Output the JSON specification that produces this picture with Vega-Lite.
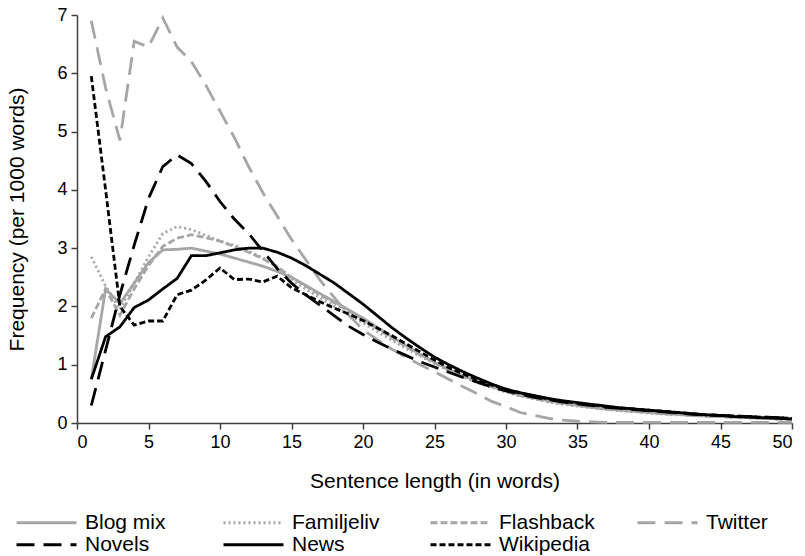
{
  "$schema": "https://vega.github.io/schema/vega-lite/v6.json",
  "width": 715,
  "height": 408,
  "autosize": {"type": "none"},
  "padding": {"left": 77, "top": 15, "right": 13, "bottom": 133},
  "background": "white",
  "config": {
    "view": {"stroke": null},
    "font": "Liberation Sans",
    "axis": {"grid": false, "domain": true, "domainColor": "#404040", "tickColor": "#404040", "domainWidth": 1.5, "tickWidth": 1.5, "labelColor": "#000", "titleColor": "#000", "labelFont": "Liberation Sans", "titleFont": "Liberation Sans", "titleFontWeight": "normal"},
    "legend": {"symbolType": "stroke", "symbolSize": 3600, "symbolStrokeWidth": 3, "labelFontSize": 21, "labelColor": "#000", "labelFont": "Liberation Sans", "labelOffset": 7, "columnPadding": 36, "labelLimit": 200}
  },
  "data": {
    "values": [
      {"x":1,"Blog mix":0.75,"Familjeliv":2.85,"Flashback":1.8,"Twitter":6.9,"Novels":0.3,"News":0.75,"Wikipedia":5.95},
      {"x":2,"Blog mix":2.3,"Familjeliv":2.35,"Flashback":2.3,"Twitter":5.75,"Novels":1.25,"News":1.48,"Wikipedia":4.0},
      {"x":3,"Blog mix":2.05,"Familjeliv":1.95,"Flashback":1.85,"Twitter":4.85,"Novels":2.2,"News":1.65,"Wikipedia":2.0},
      {"x":4,"Blog mix":2.4,"Familjeliv":2.4,"Flashback":2.3,"Twitter":6.55,"Novels":3.05,"News":1.98,"Wikipedia":1.68},
      {"x":5,"Blog mix":2.75,"Familjeliv":2.85,"Flashback":2.7,"Twitter":6.45,"Novels":3.85,"News":2.11,"Wikipedia":1.75},
      {"x":6,"Blog mix":2.97,"Familjeliv":3.25,"Flashback":3.03,"Twitter":6.95,"Novels":4.4,"News":2.3,"Wikipedia":1.75},
      {"x":7,"Blog mix":2.98,"Familjeliv":3.37,"Flashback":3.17,"Twitter":6.45,"Novels":4.6,"News":2.48,"Wikipedia":2.2},
      {"x":8,"Blog mix":3.0,"Familjeliv":3.32,"Flashback":3.23,"Twitter":6.2,"Novels":4.45,"News":2.87,"Wikipedia":2.28},
      {"x":9,"Blog mix":2.95,"Familjeliv":3.22,"Flashback":3.18,"Twitter":5.8,"Novels":4.15,"News":2.87,"Wikipedia":2.45},
      {"x":10,"Blog mix":2.9,"Familjeliv":3.12,"Flashback":3.12,"Twitter":5.35,"Novels":3.8,"News":2.92,"Wikipedia":2.66},
      {"x":11,"Blog mix":2.83,"Familjeliv":3.05,"Flashback":3.03,"Twitter":4.9,"Novels":3.5,"News":2.97,"Wikipedia":2.46},
      {"x":12,"Blog mix":2.76,"Familjeliv":2.95,"Flashback":2.93,"Twitter":4.4,"Novels":3.25,"News":3.0,"Wikipedia":2.47},
      {"x":13,"Blog mix":2.69,"Familjeliv":2.83,"Flashback":2.82,"Twitter":3.95,"Novels":2.95,"News":3.0,"Wikipedia":2.42},
      {"x":14,"Blog mix":2.6,"Familjeliv":2.68,"Flashback":2.68,"Twitter":3.55,"Novels":2.65,"News":2.93,"Wikipedia":2.52},
      {"x":15,"Blog mix":2.5,"Familjeliv":2.45,"Flashback":2.5,"Twitter":3.15,"Novels":2.4,"News":2.83,"Wikipedia":2.32},
      {"x":16,"Blog mix":2.36,"Familjeliv":2.3,"Flashback":2.35,"Twitter":2.8,"Novels":2.2,"News":2.7,"Wikipedia":2.2},
      {"x":17,"Blog mix":2.22,"Familjeliv":2.15,"Flashback":2.2,"Twitter":2.45,"Novels":2.02,"News":2.55,"Wikipedia":2.08},
      {"x":18,"Blog mix":2.08,"Familjeliv":2.0,"Flashback":2.06,"Twitter":2.15,"Novels":1.84,"News":2.4,"Wikipedia":1.97},
      {"x":19,"Blog mix":1.94,"Familjeliv":1.86,"Flashback":1.92,"Twitter":1.85,"Novels":1.66,"News":2.22,"Wikipedia":1.87},
      {"x":20,"Blog mix":1.8,"Familjeliv":1.72,"Flashback":1.78,"Twitter":1.6,"Novels":1.52,"News":2.04,"Wikipedia":1.76},
      {"x":21,"Blog mix":1.64,"Familjeliv":1.57,"Flashback":1.62,"Twitter":1.43,"Novels":1.39,"News":1.84,"Wikipedia":1.63},
      {"x":22,"Blog mix":1.48,"Familjeliv":1.42,"Flashback":1.46,"Twitter":1.27,"Novels":1.27,"News":1.64,"Wikipedia":1.5},
      {"x":23,"Blog mix":1.33,"Familjeliv":1.28,"Flashback":1.31,"Twitter":1.13,"Novels":1.16,"News":1.46,"Wikipedia":1.36},
      {"x":24,"Blog mix":1.18,"Familjeliv":1.15,"Flashback":1.17,"Twitter":1.0,"Novels":1.05,"News":1.29,"Wikipedia":1.22},
      {"x":25,"Blog mix":1.04,"Familjeliv":1.02,"Flashback":1.03,"Twitter":0.88,"Novels":0.96,"News":1.13,"Wikipedia":1.08},
      {"x":26,"Blog mix":0.92,"Familjeliv":0.9,"Flashback":0.91,"Twitter":0.75,"Novels":0.87,"News":1.0,"Wikipedia":0.95},
      {"x":27,"Blog mix":0.81,"Familjeliv":0.79,"Flashback":0.8,"Twitter":0.62,"Novels":0.78,"News":0.88,"Wikipedia":0.84},
      {"x":28,"Blog mix":0.71,"Familjeliv":0.69,"Flashback":0.7,"Twitter":0.5,"Novels":0.7,"News":0.77,"Wikipedia":0.74},
      {"x":29,"Blog mix":0.63,"Familjeliv":0.61,"Flashback":0.62,"Twitter":0.37,"Novels":0.62,"News":0.67,"Wikipedia":0.65},
      {"x":30,"Blog mix":0.55,"Familjeliv":0.53,"Flashback":0.54,"Twitter":0.28,"Novels":0.55,"News":0.58,"Wikipedia":0.58},
      {"x":31,"Blog mix":0.48,"Familjeliv":0.46,"Flashback":0.47,"Twitter":0.18,"Novels":0.49,"News":0.52,"Wikipedia":0.51},
      {"x":32,"Blog mix":0.43,"Familjeliv":0.41,"Flashback":0.42,"Twitter":0.13,"Novels":0.44,"News":0.47,"Wikipedia":0.46},
      {"x":33,"Blog mix":0.38,"Familjeliv":0.36,"Flashback":0.37,"Twitter":0.08,"Novels":0.4,"News":0.42,"Wikipedia":0.41},
      {"x":34,"Blog mix":0.34,"Familjeliv":0.32,"Flashback":0.33,"Twitter":0.05,"Novels":0.36,"News":0.38,"Wikipedia":0.37},
      {"x":35,"Blog mix":0.3,"Familjeliv":0.29,"Flashback":0.3,"Twitter":0.03,"Novels":0.33,"News":0.35,"Wikipedia":0.34},
      {"x":36,"Blog mix":0.27,"Familjeliv":0.26,"Flashback":0.27,"Twitter":0.02,"Novels":0.3,"News":0.32,"Wikipedia":0.31},
      {"x":37,"Blog mix":0.24,"Familjeliv":0.23,"Flashback":0.24,"Twitter":0.01,"Novels":0.27,"News":0.29,"Wikipedia":0.28},
      {"x":38,"Blog mix":0.22,"Familjeliv":0.21,"Flashback":0.22,"Twitter":0.01,"Novels":0.25,"News":0.26,"Wikipedia":0.26},
      {"x":39,"Blog mix":0.2,"Familjeliv":0.19,"Flashback":0.2,"Twitter":0.01,"Novels":0.23,"News":0.24,"Wikipedia":0.24},
      {"x":40,"Blog mix":0.18,"Familjeliv":0.17,"Flashback":0.18,"Twitter":0.01,"Novels":0.21,"News":0.22,"Wikipedia":0.22},
      {"x":41,"Blog mix":0.16,"Familjeliv":0.15,"Flashback":0.16,"Twitter":0.01,"Novels":0.19,"News":0.2,"Wikipedia":0.2},
      {"x":42,"Blog mix":0.15,"Familjeliv":0.14,"Flashback":0.15,"Twitter":0.01,"Novels":0.17,"News":0.18,"Wikipedia":0.18},
      {"x":43,"Blog mix":0.13,"Familjeliv":0.13,"Flashback":0.13,"Twitter":0.01,"Novels":0.15,"News":0.16,"Wikipedia":0.16},
      {"x":44,"Blog mix":0.12,"Familjeliv":0.12,"Flashback":0.12,"Twitter":0.01,"Novels":0.14,"News":0.14,"Wikipedia":0.14},
      {"x":45,"Blog mix":0.11,"Familjeliv":0.11,"Flashback":0.11,"Twitter":0.01,"Novels":0.13,"News":0.13,"Wikipedia":0.13},
      {"x":46,"Blog mix":0.1,"Familjeliv":0.1,"Flashback":0.1,"Twitter":0.01,"Novels":0.12,"News":0.11,"Wikipedia":0.12},
      {"x":47,"Blog mix":0.09,"Familjeliv":0.09,"Flashback":0.09,"Twitter":0.01,"Novels":0.11,"News":0.1,"Wikipedia":0.11},
      {"x":48,"Blog mix":0.08,"Familjeliv":0.08,"Flashback":0.08,"Twitter":0.01,"Novels":0.1,"News":0.09,"Wikipedia":0.1},
      {"x":49,"Blog mix":0.07,"Familjeliv":0.07,"Flashback":0.07,"Twitter":0.01,"Novels":0.09,"News":0.08,"Wikipedia":0.09},
      {"x":50,"Blog mix":0.07,"Familjeliv":0.06,"Flashback":0.06,"Twitter":0.01,"Novels":0.08,"News":0.07,"Wikipedia":0.08}
    ]
  },
  "transform": [
    {"fold": ["Blog mix", "Familjeliv", "Flashback", "Twitter", "Novels", "News", "Wikipedia"], "as": ["series", "freq"]}
  ],
  "encoding": {
    "x": {
      "field": "x", "type": "quantitative",
      "scale": {"domain": [0, 50], "nice": false, "zero": true},
      "axis": {"values": [0,5,10,15,20,25,30,35,40,45,50], "title": "Sentence length (in words)", "labelFontSize": 18, "titleFontSize": 21, "tickSize": 6, "labelPadding": 4, "titlePadding": 19}
    },
    "y": {
      "field": "freq", "type": "quantitative",
      "scale": {"domain": [0, 7], "nice": false},
      "axis": {"values": [0,1,2,3,4,5,6,7], "title": "Frequency (per 1000 words)", "labelFontSize": 18, "titleFontSize": 21, "tickSize": 6, "labelPadding": 4, "titlePadding": 29}
    }
  },
  "layer": [
    {
      "transform": [{"filter": {"field": "series", "oneOf": ["Blog mix", "Familjeliv", "Flashback", "Twitter"]}}],
      "mark": {"type": "line", "strokeWidth": 2.8},
      "encoding": {
        "color": {
          "field": "series", "type": "nominal",
          "scale": {"domain": ["Blog mix", "Familjeliv", "Flashback", "Twitter"], "range": ["#a6a6a6", "#a6a6a6", "#a6a6a6", "#a6a6a6"]},
          "legend": {"title": null, "orient": "none", "legendX": -62, "legendY": 476, "direction": "horizontal", "columns": 4, "gridAlign": "all"}
        },
        "strokeDash": {
          "field": "series", "type": "nominal",
          "scale": {"domain": ["Blog mix", "Familjeliv", "Flashback", "Twitter"], "range": [[1, 0], [2, 3], [7, 3], [18, 9]]},
          "legend": null
        }
      }
    },
    {
      "transform": [{"filter": {"field": "series", "oneOf": ["Novels", "News", "Wikipedia"]}}],
      "mark": {"type": "line", "strokeWidth": 2.8},
      "encoding": {
        "color": {
          "field": "series", "type": "nominal",
          "scale": {"domain": ["Novels", "News", "Wikipedia"], "range": ["#000000", "#000000", "#000000"]},
          "legend": {"title": null, "orient": "none", "legendX": -62, "legendY": 498, "direction": "horizontal", "columns": 4, "gridAlign": "all", "columnPadding": 40}
        },
        "strokeDash": {
          "field": "series", "type": "nominal",
          "scale": {"domain": ["Novels", "News", "Wikipedia"], "range": [[18, 9], [1, 0], [6, 3]]},
          "legend": null
        }
      }
    }
  ],
  "resolve": {"scale": {"color": "independent", "strokeDash": "independent"}, "legend": {"color": "independent", "strokeDash": "independent"}}
}
